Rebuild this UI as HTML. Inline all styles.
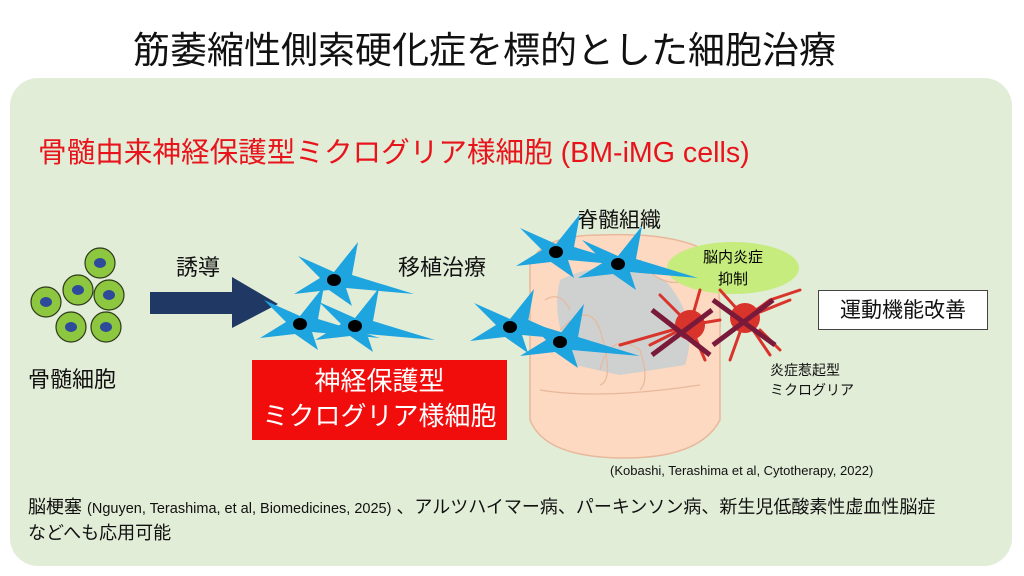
<!DOCTYPE html><html><head><meta charset="utf-8"><style>
body{margin:0;width:1024px;height:576px;background:#fff;position:relative;overflow:hidden;font-family:"Liberation Sans","Noto Sans CJK JP",sans-serif}
.t{position:absolute;white-space:nowrap;color:#111}
</style></head><body>
<div style="position:absolute;left:10px;top:78px;width:1002px;height:488px;background:#e2edd8;border-radius:28px"></div>
<div class="t" style="left:133px;top:20px;font-size:37px;">筋萎縮性側索硬化症を標的とした細胞治療</div>
<div class="t" style="left:38px;top:130px;font-size:28.6px;color:#e8141c">骨髄由来神経保護型ミクログリア様細胞 (BM-iMG cells)</div>
<div class="t" style="left:28px;top:362px;font-size:22px">骨髄細胞</div>
<div class="t" style="left:176px;top:250px;font-size:22px">誘導</div>
<div class="t" style="left:398px;top:250px;font-size:22px">移植治療</div>
<div class="t" style="left:577px;top:204px;font-size:21px">脊髄組織</div>
<div style="position:absolute;left:252px;top:360px;width:255px;height:80px;background:#f20d0d"></div>
<div class="t" style="left:252px;top:364px;width:255px;text-align:center;font-size:26px;color:#fff;line-height:35px">神経保護型<br>ミクログリア様細胞</div>
<div style="position:absolute;left:818px;top:290px;width:168px;height:38px;border:1.5px solid #444;background:#fff"></div>
<div class="t" style="left:818px;top:294px;width:170px;text-align:center;font-size:21px">運動機能改善</div>
<div class="t" style="left:770px;top:360px;font-size:14px;line-height:20px">炎症惹起型<br>ミクログリア</div>
<div class="t" style="left:610px;top:463px;font-size:13px">(Kobashi, Terashima et al, Cytotherapy, 2022)</div>
<div class="t" style="left:28px;top:495px;font-size:18px;line-height:24px">脳梗塞 <span style="font-size:14.5px">(Nguyen, Terashima, et al, Biomedicines, 2025)</span> 、アルツハイマー病、パーキンソン病、新生児低酸素性虚血性脳症<br>などへも応用可能</div>
<svg width="1024" height="576" style="position:absolute;left:0;top:0">
<g fill="#8dc63f" stroke="#2d3a1a" stroke-width="1.2">
<circle cx="100" cy="263" r="15"/><circle cx="78" cy="290" r="15"/><circle cx="109" cy="295" r="15"/><circle cx="46" cy="302" r="15"/><circle cx="71" cy="327" r="15"/><circle cx="106" cy="327" r="15"/></g>
<g fill="#2e4a9a"><ellipse cx="100" cy="263" rx="6" ry="5"/><ellipse cx="78" cy="290" rx="6" ry="5"/><ellipse cx="109" cy="295" rx="6" ry="5"/><ellipse cx="46" cy="302" rx="6" ry="5"/><ellipse cx="71" cy="327" rx="6" ry="5"/><ellipse cx="106" cy="327" rx="6" ry="5"/></g>
<polygon points="150,292 232,292 232,277 278,304 232,328 232,314 150,314" fill="#1f3864"/>
<path d="M530,265 Q540,235 600,235 Q670,232 705,250 Q722,275 720,330 L720,420 Q700,458 625,458 Q545,458 530,420 Z" fill="#fcd9c0" stroke="#e8b89a" stroke-width="1.5"/>
<path d="M560,280 Q610,255 665,280 Q700,320 685,365 L620,375 L575,365 Q550,320 560,280Z" fill="#cfd0d0"/>
<g fill="none" stroke="#e8b89a" stroke-width="1.2"><path d="M560,330 Q590,300 600,330 Q615,380 600,385"/><path d="M600,370 Q610,330 640,350 Q650,380 640,390"/><path d="M640,260 Q660,290 690,280"/><path d="M545,300 Q560,290 570,310"/><path d="M540,390 Q600,400 700,385"/></g>
<ellipse cx="733" cy="268" rx="66" ry="26" fill="#c5ec7d"/>
<text x="733" y="262" font-size="15" text-anchor="middle" font-family="Liberation Sans,Noto Sans CJK JP,sans-serif">脳内炎症</text>
<text x="733" y="284" font-size="15" text-anchor="middle" font-family="Liberation Sans,Noto Sans CJK JP,sans-serif">抑制</text>
<g stroke="#d9342b" stroke-width="3" fill="none" stroke-linecap="round">
<path d="M690,325 L660,295 M690,325 L650,345 M690,325 L700,290 M690,325 L705,360 M690,325 L720,320 M745,318 L770,300 M745,318 L790,300 M745,318 L770,355 M745,318 L720,290 M745,318 L730,360 M690,325 L620,345 M760,330 L780,350 M770,300 L800,290"/></g>
<circle cx="690" cy="325" r="15" fill="#d9342b"/><circle cx="745" cy="318" r="15" fill="#d9342b"/>
<g stroke="#7a1a3a" stroke-width="5"><path d="M652,310 L710,355 M652,355 L712,310 M713,300 L775,345 M713,345 L773,300"/></g>
<defs><g id="m"><polygon points="0,-8 24,-38 18,-5 80,14 12,8 18,26 -5,10 -40,14 -14,-2 -36,-24" fill="#1ea4df"/><ellipse cx="0" cy="0" rx="7" ry="6" fill="#000"/></g></defs>
<use href="#m" x="334" y="280"/><use href="#m" x="300" y="324"/><use href="#m" x="355" y="326"/>
<use href="#m" x="556" y="252"/><use href="#m" x="618" y="264"/><use href="#m" x="510" y="327"/><use href="#m" x="560" y="342"/>
</svg>
</body></html>
